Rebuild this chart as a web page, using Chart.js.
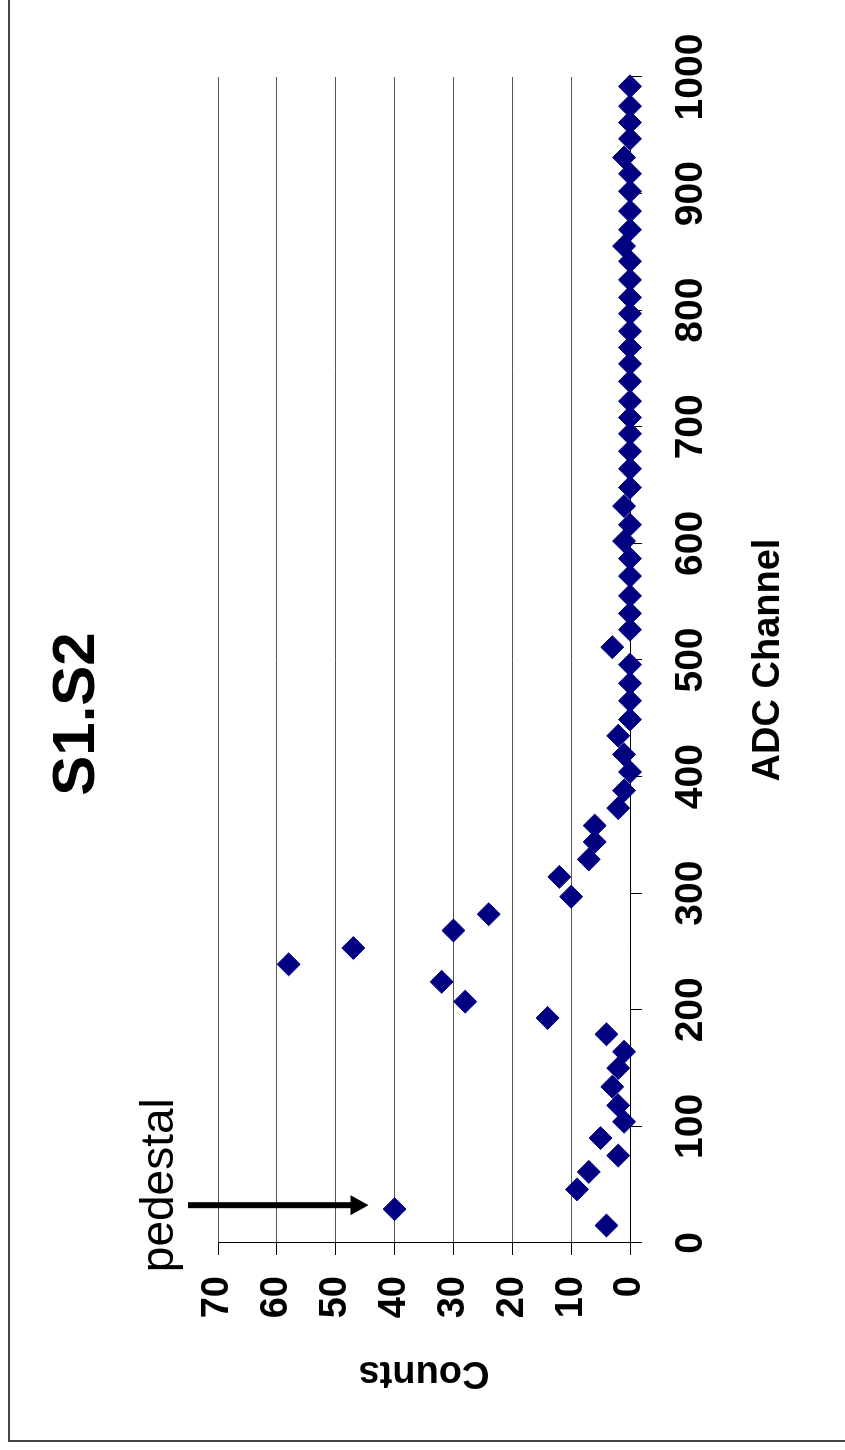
<!DOCTYPE html>
<html>
<head>
<meta charset="utf-8">
<script src="https://cdn.jsdelivr.net/npm/chart.js@4"></script>
<style>
  html, body { margin: 0; padding: 0; background: #fff; overflow: hidden; }
  body { width: 845px; height: 1450px; position: relative; }
  /* chart is laid out landscape, then turned a quarter turn counter-clockwise */
  #wrap { position: absolute; left: 0; top: 0; width: 1450px; height: 845px;
          transform-origin: 0 0; transform: translateY(1450px) rotate(-90deg); }
  #frame { position: absolute; left: 8px; top: -10px; width: 900px; height: 1452px;
           border: 2px solid #444; box-sizing: border-box; pointer-events: none; }
</style>
</head>
<body>
<div id="wrap"><canvas id="adcChart" width="1450" height="845"></canvas></div>
<div id="frame"></div>
<script>
const adcChannel = [15, 29, 46, 61, 75, 90, 104, 118, 134, 150,
                    164, 179, 193, 207, 224, 239, 253, 268, 282, 297,
                    314, 329, 344, 358, 373, 388, 404, 419, 435, 449,
                    465, 480, 496, 511, 526, 540, 555, 572, 587, 602,
                    616, 632, 648, 664, 679, 694, 708, 722, 739, 754,
                    768, 782, 797, 811, 826, 842, 855, 869, 885, 902,
                    917, 931, 947, 961, 975, 992];
const counts = [4, 40, 9, 7, 2, 5, 1, 2, 3, 2,
                1, 4, 14, 28, 32, 58, 47, 30, 24, 10,
                12, 7, 6, 6, 2, 1, 0, 1, 2, 0,
                0, 0, 0, 3, 0, 0, 0, 0, 0, 1,
                0, 1, 0, 0, 0, 0, 0, 0, 0, 0,
                0, 0, 0, 0, 0, 0, 1, 0, 0, 0,
                0, 1, 0, 0, 0, 0];
const adcRange = [0, 1000];
const countRange = [0, 70];
const pedestal = { adc: 29, count: 40, label: 'pedestal' };

const FONT = "'Liberation Sans', Arial, sans-serif";
Chart.defaults.font.family = FONT;
Chart.defaults.color = '#000';

// arrow + "pedestal" note pointing at the pedestal peak
const pedestalArrow = {
  id: 'pedestalArrow',
  afterDatasetsDraw(chart) {
    const { ctx, scales: { x, y } } = chart;
    const px = x.getPixelForValue(pedestal.adc) + 4;
    const py = y.getPixelForValue(pedestal.count);
    const tipY = py - 26;
    const startY = chart.chartArea.top - 30;
    ctx.save();
    ctx.strokeStyle = '#000';
    ctx.fillStyle = '#000';
    ctx.lineWidth = 6;
    ctx.beginPath();
    ctx.moveTo(px, startY);
    ctx.lineTo(px, tipY - 14);
    ctx.stroke();
    ctx.beginPath();
    ctx.moveTo(px - 10, tipY - 18);
    ctx.lineTo(px + 10, tipY - 18);
    ctx.lineTo(px, tipY);
    ctx.closePath();
    ctx.fill();
    ctx.font = '46px ' + FONT;
    ctx.textAlign = 'left';
    ctx.textBaseline = 'alphabetic';
    ctx.fillText(pedestal.label, px - 67, startY - 15);
    ctx.restore();
  }
};

new Chart(document.getElementById('adcChart'), {
  type: 'scatter',
  data: {
    datasets: [{
      label: 'S1.S2',
      data: adcChannel.map((a, i) => ({ x: a, y: counts[i] })),
      pointStyle: 'rectRot',
      pointRadius: 11.5,
      pointHoverRadius: 11.5,
      backgroundColor: '#000080',
      borderColor: '#000080',
      borderWidth: 1,
      clip: false
    }]
  },
  options: {
    responsive: false,
    animation: false,
    devicePixelRatio: 1,
    layout: { padding: { left: 33, right: 11, top: 0, bottom: 0 } },
    plugins: {
      legend: { display: false },
      tooltip: { enabled: false },
      title: {
        display: true,
        text: 'S1.S2',
        color: '#000',
        font: { size: 60, weight: 'bold' },
        padding: { top: 41, bottom: 105 }
      }
    },
    scales: {
      x: {
        type: 'linear',
        min: adcRange[0],
        max: adcRange[1],
        ticks: { stepSize: 100, font: { size: 39, weight: 'bold' }, padding: 26, maxRotation: 0,
                 color: '#000', callback: v => String(v) },
        grid: { drawOnChartArea: false, drawTicks: true, tickLength: 12, tickColor: '#000' },
        border: { color: '#000', width: 1 },
        title: { display: true, text: 'ADC Channel', color: '#000',
                 font: { size: 38, weight: 'bold' }, padding: { top: 0, bottom: 54 } },
        afterFit(s) { s.height = 215; s.paddingRight = 77; }
      },
      y: {
        min: countRange[0],
        max: countRange[1],
        ticks: { stepSize: 10, font: { size: 38, weight: 'bold' }, padding: 21, color: '#000' },
        grid: { color: '#555', lineWidth: 1, tickLength: 12, tickColor: '#000' },
        border: { color: '#000', width: 1 },
        title: { display: true, text: 'Counts', color: '#000',
                 font: { size: 38, weight: 'bold' }, padding: { top: 22, bottom: 0 } },
        afterFit(s) { s.width = 174; }
      }
    }
  },
  plugins: [pedestalArrow]
});
</script>
</body>
</html>
